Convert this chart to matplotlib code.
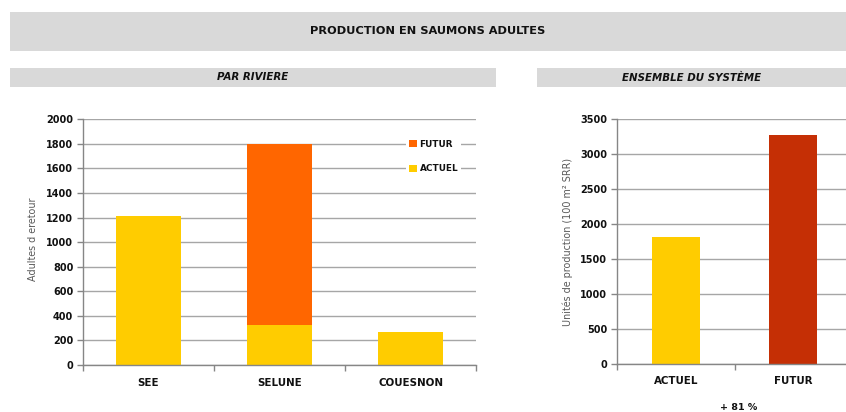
import matplotlib
matplotlib.use("Agg")
import matplotlib.pyplot as plt
from matplotlib.patches import Rectangle

plt.rcParams['font.family'] = ['DejaVu Sans']

# ---- data ----
rivers = ["SEE", "SELUNE", "COUESNON"]
actuel_river = [1210, 325, 265]
futur_river = [0, 1475, 0]
system_cats = ["ACTUEL", "FUTUR"]
system_vals = [1820, 3275]
left_yticks = list(range(0, 2001, 200))
right_yticks = list(range(0, 3501, 500))
title = "PRODUCTION EN SAUMONS ADULTES"
sub_left = "PAR RIVIERE"
sub_right = "ENSEMBLE DU SYSTÈME"
left_ylabel = "Adultes d eretour"
right_ylabel = "Unités de production (100 m² SRR)"
gain_text = "+ 81 %"

YELLOW = "#FFCC00"
ORANGE = "#FF6600"
RED = "#C52F05"
GRID = "#A6A6A6"
AXIS = "#868686"
BANNER = "#D9D9D9"
TXT = "#111111"

W, H = 846, 412
fig = plt.figure(figsize=(W / 100, H / 100), dpi=100)

def px_rect(x0, y0, x1, y1):
    return [x0 / W, 1 - y1 / H, (x1 - x0) / W, (y1 - y0) / H]

def banner(x0, y0, x1, y1, text, **kw):
    l, b, w, h = px_rect(x0, y0, x1, y1)
    fig.add_artist(Rectangle((l, b), w, h, transform=fig.transFigure,
                             facecolor=BANNER, edgecolor="none"))
    fig.text(l + w / 2, b + h / 2, text, ha="center", va="center",
             color=TXT, fontweight="bold", **kw)

banner(10, 12, 846, 51, title, fontsize=8.2)
banner(10, 68, 496, 87, sub_left, fontsize=7.4, style="italic")
banner(537, 68, 846, 87, sub_right, fontsize=7.4, style="italic")

def style_axes(ax, xlabels, yticks):
    for s in ["top", "right"]:
        ax.spines[s].set_visible(False)
    for s in ["left", "bottom"]:
        ax.spines[s].set_color(AXIS)
        ax.spines[s].set_linewidth(1.0)
    ax.set_axisbelow(True)
    ax.yaxis.grid(True, color=GRID, linewidth=1.0)
    n = len(xlabels)
    ax.set_xticks(list(range(n)))
    ax.set_xticklabels(xlabels, fontweight="bold", fontsize=7.4, color=TXT)
    ax.set_xticks([i - 0.5 for i in range(n + 1)], minor=True)
    ax.set_yticks(yticks)
    ax.set_yticklabels([str(v) for v in yticks], fontweight="bold",
                       fontsize=7.0, color=TXT)
    ax.tick_params(axis="y", colors=AXIS, length=4, width=1, pad=3)
    ax.tick_params(axis="y", labelcolor=TXT)
    ax.tick_params(axis="x", which="major", length=0, pad=9)
    ax.tick_params(axis="x", which="minor", length=4, width=1, colors=AXIS)

# ---- left chart ----
axl = fig.add_axes(px_rect(83, 119.3, 476, 365))
xl = list(range(len(rivers)))
axl.bar(xl, actuel_river, width=0.5, color=YELLOW, label="ACTUEL")
axl.bar(xl, futur_river, width=0.5, bottom=actuel_river, color=ORANGE, label="FUTUR")
axl.set_xlim(-0.5, len(rivers) - 0.5)
axl.set_ylim(0, 2000)
style_axes(axl, rivers, left_yticks)
axl.set_ylabel(left_ylabel, fontsize=6.9, color="#595959")
axl.yaxis.set_label_coords(-0.114, 0.51)
h, l = axl.get_legend_handles_labels()
leg = axl.legend(h[::-1], l[::-1], loc="center", bbox_to_anchor=(0.892, 0.8486),
                 frameon=True, facecolor="white", edgecolor="none", framealpha=1,
                 fancybox=False, fontsize=6.4, handlelength=0.9, handleheight=0.9,
                 handletextpad=0.3, labelspacing=1.75, borderpad=0.3,
                 borderaxespad=0)
for t in leg.get_texts():
    t.set_fontweight("bold")
    t.set_color(TXT)

# ---- right chart ----
axr = fig.add_axes(px_rect(617, 119.3, 852, 364))
xr = list(range(len(system_cats)))
axr.bar(xr, system_vals, width=0.41, color=[YELLOW, RED])
axr.set_xlim(-0.5, len(system_cats) - 0.5)
axr.set_ylim(0, 3500)
style_axes(axr, system_cats, right_yticks)
axr.set_ylabel(right_ylabel, fontsize=6.9, color="#595959")
axr.yaxis.set_label_coords(-0.187, 0.50)

fig.text(739 / W, 1 - 407 / H, gain_text, ha="center", va="center",
         fontsize=6.8, fontweight="bold", color=TXT)

fig.savefig("out.png", dpi=100, facecolor="white")
